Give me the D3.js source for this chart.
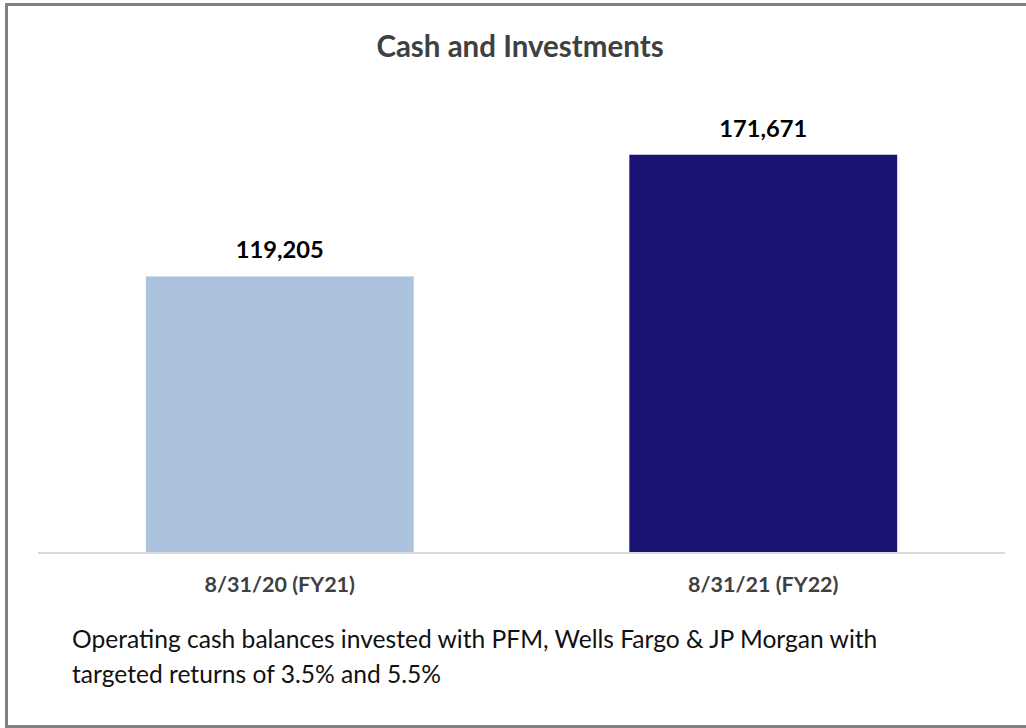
<!DOCTYPE html>
<html><head><meta charset="utf-8">
<script src="https://cdn.jsdelivr.net/npm/d3@7"></script>
<style>html,body{margin:0;padding:0;background:#fff;overflow:hidden}</style>
</head><body>
<svg id="c" width="1026" height="728"></svg>
<script>
const title = "Cash and Investments";
const categories = ["8/31/20 (FY21)", "8/31/21 (FY22)"];
const values = [119205, 171671];
const barColors = ["url(#chk)", "#1c1474"];
const noteLines = ["Operating cash balances invested with PFM, Wells Fargo & JP Morgan with", "targeted returns of 3.5% and 5.5%"];
const yMax = 200000;

const F = "Lato, Carlito, Calibri, sans-serif";
const svg = d3.select("#c");
const defs = svg.append("defs");
const pat = defs.append("pattern").attr("id","chk").attr("width",4).attr("height",4).attr("patternUnits","userSpaceOnUse");
pat.append("rect").attr("width",4).attr("height",4).attr("fill","#a9c1e1");
pat.append("rect").attr("width",1).attr("height",1).attr("x",0).attr("y",0).attr("fill","#bccfe9");
pat.append("rect").attr("width",1).attr("height",1).attr("x",2).attr("y",2).attr("fill","#bccfe9");

svg.append("rect").attr("x",6.5).attr("y",4.5).attr("width",1030).attr("height",722)
  .attr("fill","#fff").attr("stroke","#808080").attr("stroke-width",3);

const x = d3.scaleBand().domain(categories).range([38,1005]).paddingInner(0.446).paddingOuter(0.223);
const y = d3.scaleLinear().domain([0,yMax]).range([553,89]);

svg.append("text").attr("x",520).attr("y",57).attr("text-anchor","middle")
  .attr("font-family",F).attr("font-weight","bold").attr("font-size",29.5)
  .attr("fill","#404040").text(title);

svg.selectAll("rect.bar").data(values).join("rect").attr("class","bar")
  .attr("x",(d,i)=>x(categories[i])).attr("width",x.bandwidth())
  .attr("y",d=>y(d)).attr("height",d=>y(0)-y(d)).attr("fill",(d,i)=>barColors[i]);

svg.selectAll("text.val").data(values).join("text").attr("class","val")
  .attr("x",(d,i)=>x(categories[i])+x.bandwidth()/2).attr("y",d=>y(d)-18)
  .attr("text-anchor","middle").attr("font-family",F)
  .attr("font-weight","bold").attr("font-size",23.7).attr("fill","#000")
  .text(d=>d3.format(",")(d));

const ax = svg.append("g").attr("transform","translate(0,553)")
  .call(d3.axisBottom(x).tickSize(0).tickPadding(0));
ax.select(".domain").attr("stroke","#d9d9d9").attr("stroke-width",2).attr("d","M38,0H1005");
ax.selectAll(".tick text").attr("dy",null).attr("y",39).attr("font-family",F)
  .attr("font-weight","bold").attr("font-size",21.5).attr("fill","#404040");

svg.append("g").selectAll("text").data(noteLines).join("text")
  .attr("x",72).attr("y",(d,i)=>648+i*35).attr("font-family",F)
  .attr("font-size",24.6).attr("fill","#111").text(d=>d);
</script>
</body></html>
